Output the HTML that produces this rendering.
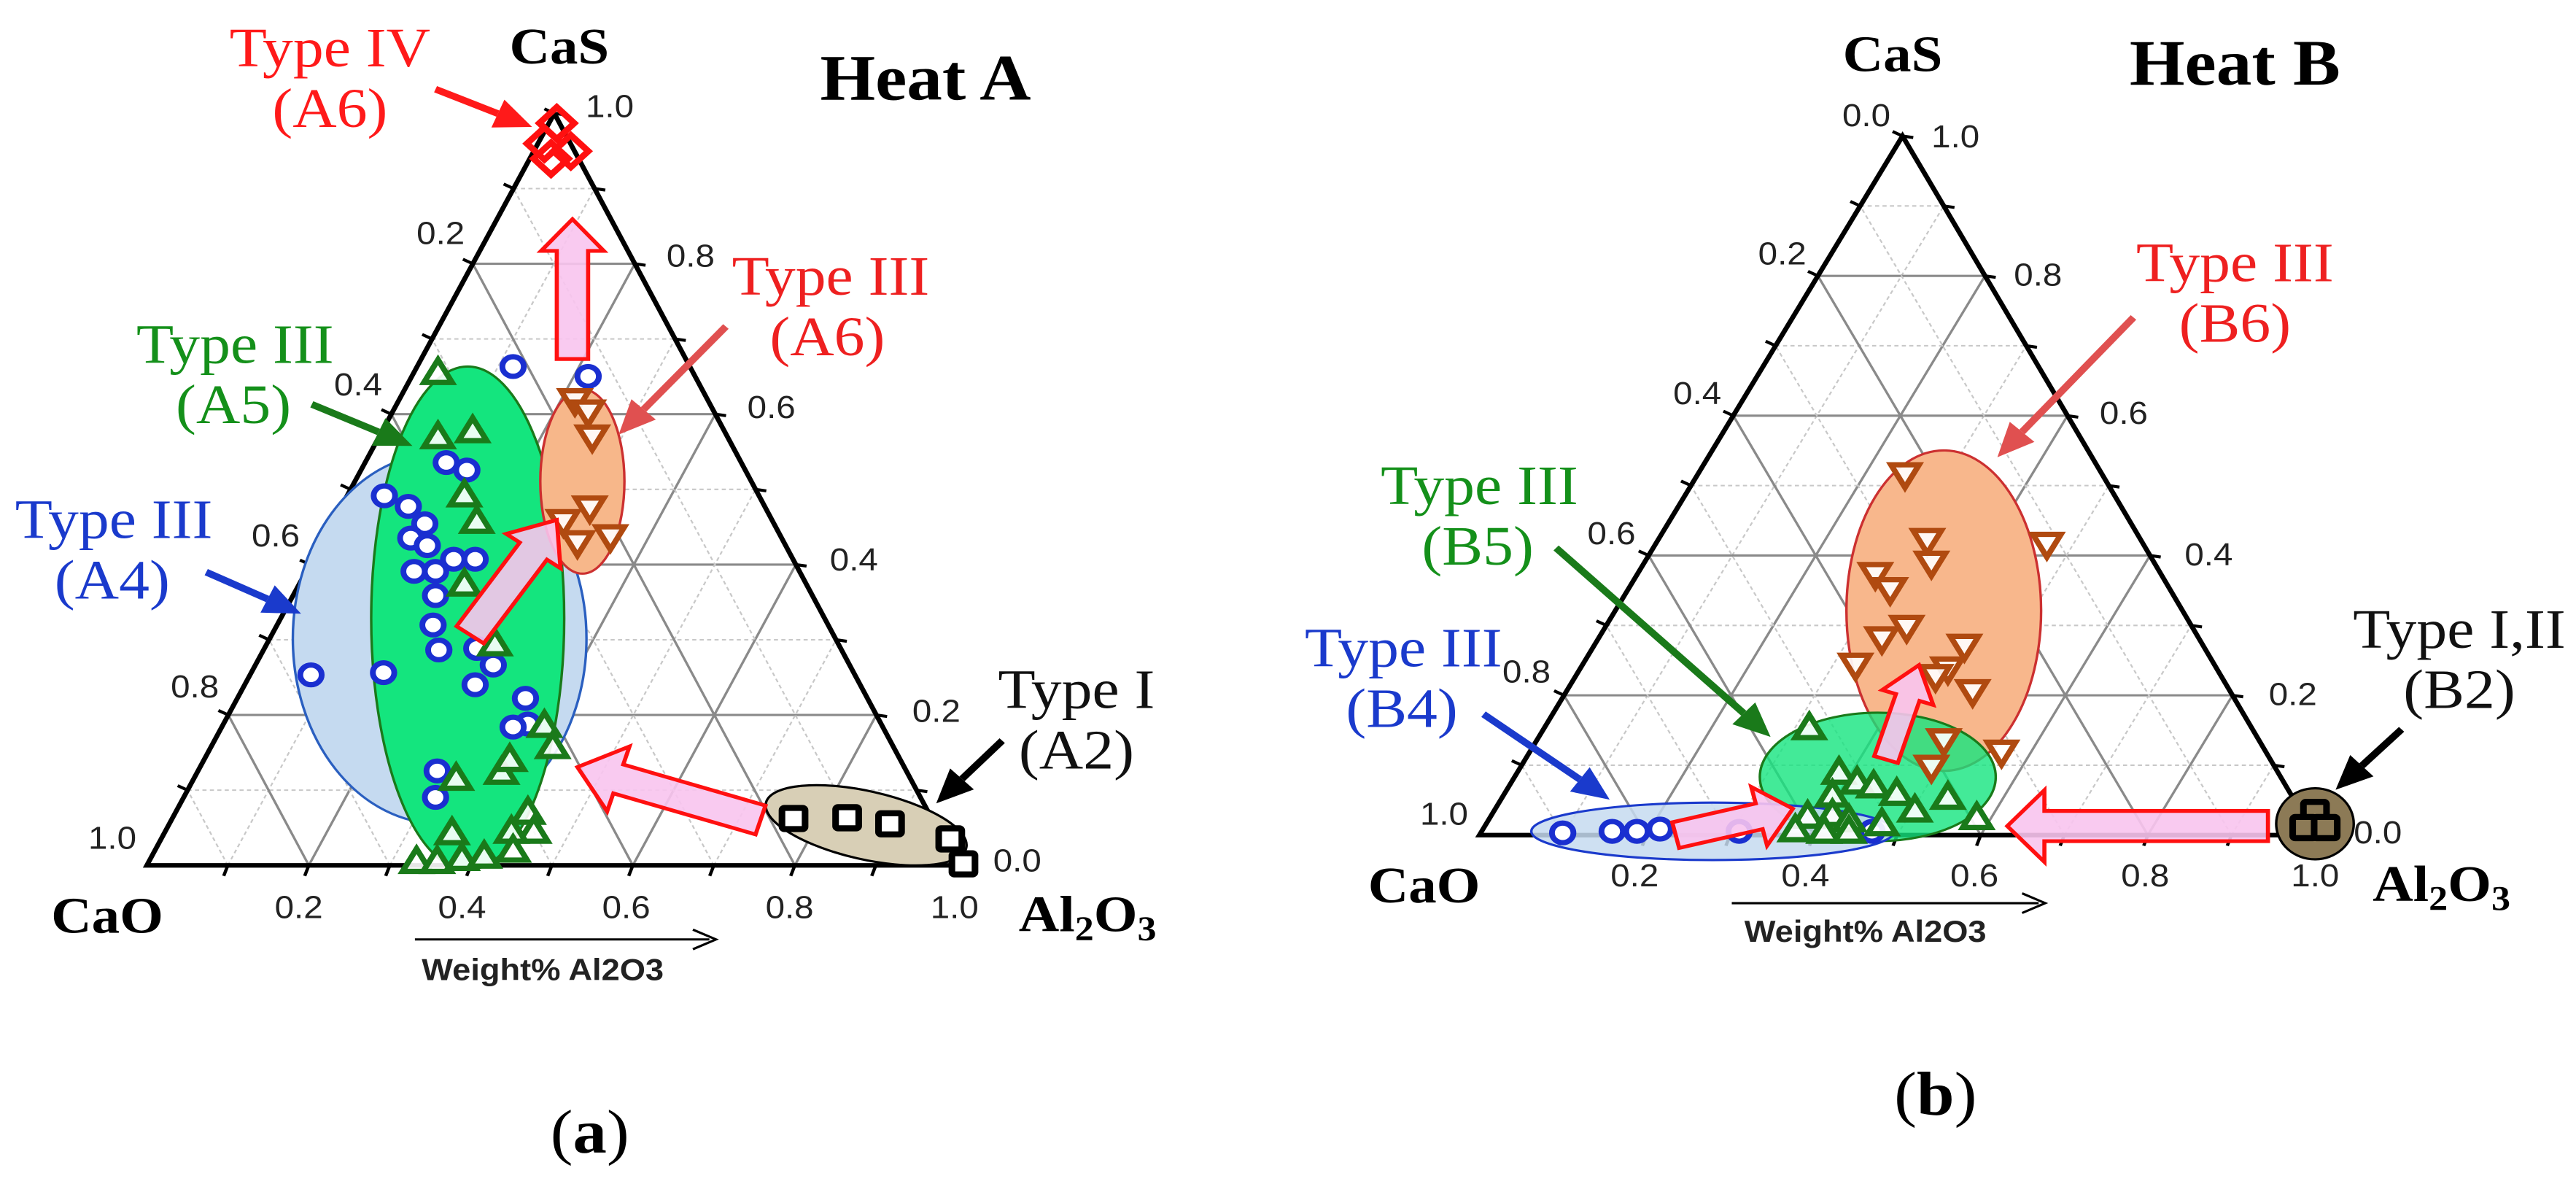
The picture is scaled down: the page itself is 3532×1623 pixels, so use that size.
<!DOCTYPE html>
<html><head><meta charset="utf-8"><style>
html,body{margin:0;padding:0;background:#fff;}
svg{display:block;}
.tk{font-family:"Liberation Sans",sans-serif;font-size:42px;fill:#222;}
.ser{font-family:"Liberation Serif",serif;}
.lb{font-family:"Liberation Serif",serif;font-size:74px;}
.bd{font-family:"Liberation Serif",serif;font-weight:bold;}
</style></head><body>
<svg id="s" width="3532" height="1623" viewBox="0 0 3532 1623" xmlns="http://www.w3.org/2000/svg">
<g id="L" transform="scale(1.131,1.036)">
<g id="Lg"></g>
<ellipse cx="533" cy="845" rx="178" ry="245" fill="#c5daf0" stroke="#2a5fc0" stroke-width="3"/>
<ellipse cx="567" cy="818" rx="117" ry="333" fill="#14e57e" stroke="#1a7a1a" stroke-width="3"/>
<ellipse cx="706" cy="637" rx="51" ry="122" fill="#f7b78a" stroke="#cc3030" stroke-width="3"/>
<ellipse cx="1050" cy="1092" rx="125" ry="45" transform="rotate(14 1050 1092)" fill="#d8cfb6" stroke="#000" stroke-width="3"/>
<g id="Lm"></g>
<text class="tk" x="505" y="323">0.2</text><text class="tk" x="405" y="523">0.4</text><text class="tk" x="305" y="723">0.6</text><text class="tk" x="207" y="923">0.8</text><text class="tk" x="107" y="1123">1.0</text>
<text class="tk" x="808" y="353">0.8</text><text class="tk" x="906" y="553">0.6</text><text class="tk" x="1006" y="755">0.4</text><text class="tk" x="1106" y="955">0.2</text><text class="tk" x="1204" y="1153">0.0</text>
<text class="tk" x="333" y="1215">0.2</text><text class="tk" x="531" y="1215">0.4</text><text class="tk" x="730" y="1215">0.6</text><text class="tk" x="928" y="1215">0.8</text><text class="tk" x="1128" y="1215">1.0</text>
<text class="tk" x="710" y="155">1.0</text>
<text class="bd" x="678" y="84" font-size="68" text-anchor="middle">CaS</text>
<text class="bd" x="1122" y="132" font-size="86" text-anchor="middle">Heat A</text>
<text class="bd" x="130" y="1234" font-size="68" text-anchor="middle">CaO</text>
<text class="bd" x="1235" y="1232" font-size="68">Al<tspan font-size="46" dy="12">2</tspan><tspan dy="-12">O</tspan><tspan font-size="46" dy="12">3</tspan></text>
<line x1="503" y1="1243" x2="860" y2="1243" stroke="#000" stroke-width="3"/><path d="M840,1230 L868,1243 L840,1256" fill="none" stroke="#000" stroke-width="3"/>
<text x="658" y="1297" font-family="Liberation Sans,sans-serif" font-weight="bold" font-size="40" text-anchor="middle" fill="#222">Weight% Al2O3</text>
<text class="ser" x="715" y="1525" font-size="82" text-anchor="middle">(<tspan font-weight="bold">a</tspan>)</text>
<g class="lb" text-anchor="middle">
<text x="400" y="88" fill="#ff1a1a">Type IV</text><text x="400" y="168" fill="#ff1a1a">(A6)</text>
<text x="1007" y="390" fill="#ee2020">Type III</text><text x="1003" y="470" fill="#ee2020">(A6)</text>
<text x="285" y="480" fill="#14901a">Type III</text><text x="283" y="560" fill="#14901a">(A5)</text>
<text x="138" y="712" fill="#1a3acc">Type III</text><text x="136" y="792" fill="#1a3acc">(A4)</text>
<text x="1305" y="937" fill="#111">Type I</text><text x="1305" y="1017" fill="#111">(A2)</text>
</g>
</g>
<g id="R" transform="translate(1766,0) scale(1.131,1.036)">
<g id="Rg"></g>
<ellipse cx="795" cy="808" rx="118" ry="212" fill="#f8b78c" stroke="#cc3030" stroke-width="3"/>
<ellipse cx="715" cy="1028" rx="143" ry="85" fill="#14e57e" fill-opacity="0.8" stroke="#1a7a1a" stroke-width="3"/>
<ellipse cx="515" cy="1100" rx="220" ry="38" fill="#c5daf0" fill-opacity="0.85" stroke="#1a3acc" stroke-width="3"/>
<circle cx="1245" cy="1090" r="47" fill="#8c7a56" stroke="#000" stroke-width="3"/>
<g id="Rm"></g>
<text class="tk" x="570" y="350">0.2</text><text class="tk" x="467" y="535">0.4</text><text class="tk" x="363" y="720">0.6</text><text class="tk" x="260" y="903">0.8</text><text class="tk" x="160" y="1091">1.0</text>
<text class="tk" x="880" y="378">0.8</text><text class="tk" x="984" y="561">0.6</text><text class="tk" x="1087" y="748">0.4</text><text class="tk" x="1189" y="933">0.2</text><text class="tk" x="1292" y="1116">0.0</text>
<text class="tk" x="391" y="1173">0.2</text><text class="tk" x="598" y="1173">0.4</text><text class="tk" x="803" y="1173">0.6</text><text class="tk" x="1010" y="1173">0.8</text><text class="tk" x="1216" y="1173">1.0</text>
<text class="tk" x="672" y="167">0.0</text><text class="tk" x="780" y="195">1.0</text>
<text class="bd" x="733" y="94" font-size="68" text-anchor="middle">CaS</text>
<text class="bd" x="1148" y="112" font-size="86" text-anchor="middle">Heat B</text>
<text class="bd" x="165" y="1194" font-size="68" text-anchor="middle">CaO</text>
<text class="bd" x="1315" y="1192" font-size="68">Al<tspan font-size="46" dy="12">2</tspan><tspan dy="-12">O</tspan><tspan font-size="46" dy="12">3</tspan></text>
<line x1="538" y1="1195" x2="910" y2="1195" stroke="#000" stroke-width="3"/><path d="M890,1182 L918,1195 L890,1208" fill="none" stroke="#000" stroke-width="3"/>
<text x="700" y="1246" font-family="Liberation Sans,sans-serif" font-weight="bold" font-size="40" text-anchor="middle" fill="#222">Weight% Al2O3</text>
<text class="ser" x="785" y="1475" font-size="82" text-anchor="middle">(<tspan font-weight="bold">b</tspan>)</text>
<g class="lb" text-anchor="middle">
<text x="1148" y="372" fill="#ee2020">Type III</text><text x="1148" y="452" fill="#ee2020">(B6)</text>
<text x="232" y="667" fill="#14901a">Type III</text><text x="230" y="747" fill="#14901a">(B5)</text>
<text x="140" y="882" fill="#1a3acc">Type III</text><text x="138" y="962" fill="#1a3acc">(B4)</text>
<text x="1420" y="857" fill="#111">Type I,II</text><text x="1420" y="937" fill="#111">(B2)</text>
</g>
</g>
</svg>
<script>
var NS="http://www.w3.org/2000/svg";
function el(p,t,a){var e=document.createElementNS(NS,t);for(var k in a)e.setAttribute(k,a[k]);p.appendChild(e);return e;}
function grid(g,A,B,C){
 function P(u,v,t){return [u[0]+(v[0]-u[0])*t,u[1]+(v[1]-u[1])*t];}
 for(var i=1;i<10;i++){var t=i/10,maj=i%2==0;
  var st=maj?{stroke:"#8a8a8a","stroke-width":3,fill:"none"}:{stroke:"#c8c8c8","stroke-width":2,"stroke-dasharray":"5,4",fill:"none"};
  var segs=[[P(A,C,t),P(B,C,t)],[P(A,B,t),P(B,C,1-t)],[P(A,B,t),P(A,C,t)]];
  segs.forEach(function(s){var a=Object.assign({x1:s[0][0],y1:s[0][1],x2:s[1][0],y2:s[1][1]},st);el(g,"line",a);});
 }
 el(g,"polygon",{points:A+" "+B+" "+C,fill:"none",stroke:"#000","stroke-width":6,"stroke-linejoin":"miter"});
 for(var i=1;i<=10;i++){var t=i/10;
  var p=P(A,B,t);el(g,"line",{x1:p[0],y1:p[1],x2:p[0]-5,y2:p[1]+14,stroke:"#000","stroke-width":4});
  p=P(A,C,t);el(g,"line",{x1:p[0],y1:p[1],x2:p[0]-12,y2:p[1]-6,stroke:"#000","stroke-width":4});
  p=P(B,C,t);el(g,"line",{x1:p[0],y1:p[1],x2:p[0]+13,y2:p[1]+2,stroke:"#000","stroke-width":4});}
}
function circ(g,pts){pts.forEach(function(p){el(g,"circle",{cx:p[0],cy:p[1],r:13,fill:"#fff",stroke:"#1a2fd0","stroke-width":7});});}
function tri(g,pts,down,col){pts.forEach(function(p){var x=p[0],y=p[1],s=down?-1:1;
 el(g,"polygon",{points:(x)+","+(y-17*s)+" "+(x-17)+","+(y+13*s)+" "+(x+17)+","+(y+13*s),fill:"#fff","fill-opacity":"0.9",stroke:col,"stroke-width":7,"stroke-linejoin":"miter"});});}
function sq(g,pts,fill){pts.forEach(function(p){el(g,"rect",{x:p[0]-14,y:p[1]-14,width:28,height:28,rx:3,fill:fill||"#fff",stroke:"#000","stroke-width":8});});}
function fat(g,x0,y0,x1,y1,w,hw,hl){var dx=x1-x0,dy=y1-y0,L=Math.hypot(dx,dy),ux=dx/L,uy=dy/L,nx=-uy,ny=ux;
 function q(a,b){return (x0+ux*a+nx*b)+","+(y0+uy*a+ny*b);}
 el(g,"polygon",{points:[q(0,-w/2),q(L-hl,-w/2),q(L-hl,-hw/2),q(L,0),q(L-hl,hw/2),q(L-hl,w/2),q(0,w/2)].join(" "),fill:"#f8c4ee","fill-opacity":"0.9",stroke:"#ff1010","stroke-width":5});}
function thin(g,x0,y0,x1,y1,col){var dx=x1-x0,dy=y1-y0,L=Math.hypot(dx,dy),ux=dx/L,uy=dy/L,nx=-uy,ny=ux,hl=45,hw=40;
 el(g,"line",{x1:x0,y1:y0,x2:x1-ux*hl,y2:y1-uy*hl,stroke:col,"stroke-width":9});
 el(g,"polygon",{points:x1+","+y1+" "+(x1-ux*hl+nx*hw/2)+","+(y1-uy*hl+ny*hw/2)+" "+(x1-ux*hl-nx*hw/2)+","+(y1-uy*hl-ny*hw/2),fill:col});}
var Lg=document.getElementById("Lg"),Lm=document.getElementById("Lm"),Rg=document.getElementById("Rg"),Rm=document.getElementById("Rm");
grid(Lg,[178,1145],[1160,1145],[672,150]);
grid(Rg,[232,1105],[1245,1105],[745,180]);
circ(Lm,[[622,485],[713,498],[541,612],[566,622],[466,656],[495,670],[515,693],[498,712],[518,722],[550,740],[576,740],[502,756],[528,756],[528,788],[525,827],[532,860],[578,858],[598,880],[377,893],[465,890],[576,906],[637,924],[640,958],[622,962],[530,1020],[528,1055]]);
tri(Lm,[[531,493],[531,578],[573,570],[563,655],[578,690],[563,773],[600,852],[660,960],[670,988],[608,1022],[618,1005],[553,1030],[548,1102],[640,1075],[647,1100],[620,1100],[622,1125],[505,1140],[530,1140],[560,1136],[587,1133]],false,"#1a7a1a");
tri(Lm,[[697,530],[713,545],[718,578],[683,690],[715,672],[740,710],[700,718]],true,"#b04a10");
sq(Lm,[[962,1083],[1027,1082],[1079,1090],[1152,1110],[1168,1143]]);
[[675,163],[660,190],[692,200],[668,210]].forEach(function(p){el(Lm,"rect",{x:p[0]-15,y:p[1]-15,width:30,height:30,transform:"rotate(45 "+p[0]+" "+p[1]+")",fill:"none",stroke:"#ff1010","stroke-width":8});});
fat(Lm,694,475,694,290,38,76,42);
fat(Lm,570,840,675,688,40,80,50);
fat(Lm,922,1085,700,1015,40,90,52);
thin(Lm,528,118,645,168,"#ff1a1a");
thin(Lm,880,432,750,575,"#e05050");
thin(Lm,378,535,500,590,"#1a7a1a");
thin(Lm,250,757,365,812,"#1a3acc");
thin(Lm,1215,980,1135,1063,"#000");
circ(Rm,[[333,1102],[393,1100],[423,1100],[451,1097],[547,1100],[708,1100]]);
tri(Rm,[[632,963],[668,1022],[690,1035],[660,1052],[710,1040],[738,1050],[760,1072],[800,1055],[630,1080],[660,1078],[680,1085],[615,1098],[650,1100],[680,1100],[720,1090],[835,1082]],false,"#1a7a1a");
tri(Rm,[[748,628],[775,715],[780,745],[920,720],[712,760],[730,780],[750,830],[720,845],[688,880],[820,855],[800,885],[830,915],[785,895],[795,980],[780,1015],[865,995]],true,"#b04a10");
sq(Rm,[[1245,1075],[1232,1095],[1258,1095]],"#8c7a56");
fat(Rm,470,1105,612,1070,35,80,42);
fat(Rm,725,1005,765,880,30,65,45);
fat(Rm,1188,1093,872,1093,40,95,45);
thin(Rm,1025,420,860,605,"#e05050");
thin(Rm,325,725,585,975,"#1a7a1a");
thin(Rm,237,945,390,1058,"#1a3acc");
thin(Rm,1350,965,1270,1045,"#000");
</script>
</body></html>
